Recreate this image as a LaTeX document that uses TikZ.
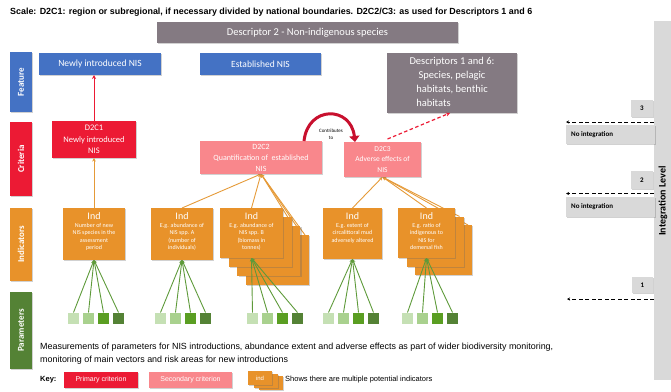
\documentclass[tikz,border=0pt]{standalone}
\usepackage{fontspec}
\setmainfont{Carlito}
\newfontfamily\gothic{Liberation Sans}
\usetikzlibrary{arrows.meta,shadows,backgrounds}
\definecolor{cblue}{HTML}{4472C4}
\definecolor{cred}{HTML}{EC1A34}
\definecolor{cpink}{HTML}{F9878C}
\definecolor{corange}{HTML}{E8922A}
\definecolor{cgreen}{HTML}{548235}
\definecolor{cmauve}{HTML}{847A82}
\definecolor{cgray}{HTML}{D9D9D9}
\definecolor{coline}{HTML}{E59A38}
\definecolor{cgline}{HTML}{5E9A3A}
\definecolor{cdred}{HTML}{C8102E}
\definecolor{sqa}{HTML}{C5E0B4}
\definecolor{sqb}{HTML}{A9D18E}
\definecolor{sqc}{HTML}{5A9E22}
\definecolor{sqd}{HTML}{548235}
\newcommand\bx[7]{\node[#6, minimum width={(#4)-(#2)}, minimum height={(#5)-(#3)}] (#1) at ({((#2)+(#4))/2},{((#3)+(#5))/2}) {#7};}
\tikzset{
 base/.style={inner sep=0pt, outer sep=0pt, draw=none},
 shd/.style={drop shadow={shadow xshift=1.2pt, shadow yshift=-1.2pt, opacity=0.3, fill=black!60}},
 band/.style={base, fill=#1, shd},
 bandtxt/.style={rotate=90, text=white, inner sep=0pt, font=\bfseries\fontsize{9}{10}\selectfont},
 featbox/.style={base, fill=cblue, text=white, shd, font=\fontsize{9.5}{11}\selectfont},
 primbox/.style={base, fill=cred, text=white, shd, align=center, font=\fontsize{8.5}{11.5}\selectfont},
 secbox/.style={base, fill=cpink, text=white, shd, align=center, font=\fontsize{8}{11}\selectfont},
 indbox/.style={base, fill=corange, shd},
 indhead/.style={text=white, inner sep=0pt, font=\fontsize{10}{11}\selectfont},
 inddet/.style={text=white, inner sep=0pt, anchor=north, align=center, font=\fontsize{6}{7.5}\selectfont},
 sqr/.style={base, minimum size=11pt, fill=#1},
 ol/.style={draw=coline, line width=0.9pt, -{Stealth[length=3.5pt,width=3.5pt]}},
 gl/.style={draw=cgline, line width=0.9pt, -{Stealth[length=3.5pt,width=3.5pt]}},
 lvl/.style={base, fill=cgray, shd, font=\bfseries\fontsize{7}{8}\selectfont},
 dl/.style={draw=black, line width=1pt, dash pattern=on 4pt off 2.5pt, -{Stealth[length=3pt,width=3pt]}},
 keytxt/.style={inner sep=0pt, anchor=west, font=\gothic\fontsize{7.5}{9}\selectfont}
}
\begin{document}
\begin{tikzpicture}[x=1pt,y=-1pt]
\useasboundingbox (0,0) rectangle (671,391);
% scale text
\node[inner sep=0pt, anchor=west] (scale) at (10,12.5) {\resizebox{522pt}{!}{\gothic\bfseries Scale: D2C1: region or subregional, if necessary divided by national boundaries. D2C2/C3: as used for Descriptors 1 and 6}};
% header
\bx{hdr}{157}{22}{458}{43}{base, fill=cmauve, text=white, shd, font=\fontsize{10.5}{12}\selectfont}{Descriptor 2 - Non-indigenous species}
% bands
\bx{fb}{10}{52}{32}{112}{band=cblue}{}
\node[bandtxt] (fbt) at (fb) {Feature};
\bx{cb}{10}{122}{32}{196}{band=cred}{}
\node[bandtxt] (cbt) at (cb) {Criteria};
\bx{ib}{10}{208}{32}{281}{band=corange}{}
\node[bandtxt] (ibt) at (ib) {Indicators};
\bx{pb}{10}{292}{32}{369}{band=cgreen}{}
\node[bandtxt] (pbt) at (pb) {Parameters};
% features
\bx{fnew}{39}{53}{161}{75}{featbox}{Newly introduced NIS}
\bx{fest}{200}{53}{321}{75}{featbox}{Established NIS}
\bx{fdesc}{387}{53}{517}{113}{base, fill=cmauve, text=white, shd, align=center, font=\fontsize{10.5}{14}\selectfont}{Descriptors 1 and 6:\\Species, pelagic\\habitats, benthic\\habitats\phantom{, benthic}}
% criteria
\bx{c1}{52}{121}{136}{158}{primbox}{D2C1\\Newly introduced\\NIS}
\bx{c2}{200}{141}{322}{174}{secbox}{D2C2\\Quantification of~ established\\NIS}
\bx{c3}{344}{142}{421}{177}{secbox, font=\fontsize{7.5}{10.5}\selectfont}{D2C3\\Adverse effects of\\NIS}
\node[inner sep=0pt, align=center, font=\fontsize{5}{7}\selectfont] (contrib) at (331,134) {Contributes\\to};
% indicators
\bx{I1}{63}{208}{125}{260}{indbox}{}
\bx{I2}{151}{208}{213}{260}{indbox}{}
\bx{I3d}{246}{235}{309}{285}{indbox}{}
\bx{I3c}{237.4}{226}{300.4}{276}{indbox}{}
\bx{I3b}{228.7}{217}{291.7}{267}{indbox}{}
\bx{I3}{220}{208}{283}{258}{indbox}{}
\bx{I4}{323}{208}{382}{259}{indbox}{}
\bx{I5c}{415}{225}{472}{275}{indbox}{}
\bx{I5b}{406.5}{216.5}{463.5}{266.5}{indbox}{}
\bx{I5}{398}{208}{455}{258}{indbox}{}
\node[indhead] (I1h) at (94,216.5) {Ind};
\node[inddet] (I1d) at (94,223) {Number of new\\NIS species in the\\assessment\\period};
\node[indhead] (I2h) at (182,216.5) {Ind};
\node[inddet] (I2d) at (182,223) {E.g. abundance of\\NIS spp. A\\(number of\\individuals)};
\node[indhead] (I3h) at (251.5,216.5) {Ind};
\node[inddet] (I3t) at (251.5,223) {E.g. abundance of\\NIS spp. B\\(biomass in\\tonnes)};
\node[indhead] (I4h) at (352.5,216.5) {Ind};
\node[inddet] (I4d) at (352.5,223) {E.g. extent of\\circalittoral mud\\adversely altered};
\node[indhead] (I5h) at (426.5,216.5) {Ind};
\node[inddet] (I5d) at (426.5,223) {E.g. ratio of\\indigenous to\\NIS for\\demersal fish};
% orange connectors (behind)
\begin{scope}[on background layer]
\draw[ol] (I1.north) -- (I1.north |- c1.south);
\draw[ol] (I2.north) -- (c2.south);
\draw[ol] (I3.north) -- (c2.south);
\draw[ol] ([xshift=-4pt]I3b.north east) -- (c2.south);
\draw[ol] ([xshift=-4pt]I3c.north east) -- (c2.south);
\draw[ol] ([xshift=-4pt]I3d.north east) -- (c2.south);
\draw[ol] (I4.north) -- (c3.south);
\draw[ol] (I5.north) -- (c3.south);
\draw[ol] ([xshift=-4pt]I5b.north east) -- (c3.south);
\draw[ol] ([xshift=-4pt]I5c.north east) -- (c3.south);
\end{scope}
% red connectors
\draw[draw=cred, line width=1pt, -{Stealth[length=4pt,width=4pt]}] (c1.north) -- (c1.north |- fnew.south);
\draw[draw=cdred, line width=3pt, -{Triangle[length=6pt,width=10pt]}] ([xshift=-18pt]c2.north east) .. controls +(4,-36) and +(-4,-36) .. ([xshift=11pt]c3.north west);
\draw[draw=cred, line width=1.2pt, dash pattern=on 3.5pt off 2.5pt, -{Stealth[length=4pt,width=4pt]}] ([xshift=5pt,yshift=3pt]c3.north) -- ([xshift=-2pt]fdesc.south);
% parameters
\foreach \g/\xs in {1/73.5, 2/160.5, 3/252.5, 4/328.5, 5/407.5}{
  \foreach \k/\c in {0/sqa, 1/sqb, 2/sqc, 3/sqd}{
    \node[sqr=\c] (s\g\k) at ({\xs+15*\k},318) {};
    \draw[gl] (s\g\k.north) -- (I\g.south);
  }
}
% measurement text
\node[inner sep=0pt, anchor=north west] (meas) at (40,341) {\resizebox{513pt}{!}{\gothic\fontsize{7.5}{10.5}\selectfont\begin{tabular}{@{}l@{}}Measurements of parameters for NIS introductions, abundance extent and adverse effects as part of wider biodiversity monitoring,\\monitoring of main vectors and risk areas for new introductions\end{tabular}}};
% key
\node[keytxt, font=\gothic\bfseries\fontsize{7.5}{9}\selectfont] (key) at (40,380) {Key:};
\bx{kprim}{64}{372}{138}{388}{base, fill=cred, text=white, shd, font=\gothic\fontsize{7}{8}\selectfont}{Primary criterion}
\bx{ksec}{149}{372}{232}{388}{base, fill=cpink, text=white, shd, font=\gothic\fontsize{7}{8}\selectfont}{Secondary criterion}
\bx{kic}{259}{376}{283}{390}{indbox}{}
\bx{kib}{253.5}{373.5}{277.5}{387.5}{indbox}{}
\bx{kia}{248}{371}{272}{385}{indbox, text=white, font=\gothic\fontsize{6}{7}\selectfont}{ind}
\node[keytxt] (kit) at (285,380) {Shows there are multiple potential indicators};
% integration level
\bx{ilbar}{654}{21}{671}{380}{base, fill=cgray}{}
\node[rotate=90, inner sep=0pt, font=\bfseries\fontsize{10}{11}\selectfont] (ilt) at (663,201) {Integration Level};
\bx{L3}{631}{100}{653}{117}{lvl}{3}
\bx{N3}{566}{125}{655}{144}{lvl}{}
\node[inner sep=0pt, anchor=west, font=\bfseries\fontsize{7}{8}\selectfont] (N3t) at (571,134.5) {No integration};
\coordinate (d3) at (566,122);
\draw[dl] (ilbar.west |- d3) -- (d3);
\bx{L2}{631}{171}{653}{189}{lvl}{2}
\bx{N2}{566}{197}{655}{217}{lvl}{}
\node[inner sep=0pt, anchor=west, font=\bfseries\fontsize{7}{8}\selectfont] (N2t) at (571,207) {No integration};
\coordinate (d2) at (566,193.5);
\draw[dl] (ilbar.west |- d2) -- (d2);
\bx{L1}{632}{277}{653}{293}{lvl}{1}
\coordinate (d1) at (567,299);
\draw[dl] (ilbar.west |- d1) -- (d1);
\end{tikzpicture}
\end{document}
